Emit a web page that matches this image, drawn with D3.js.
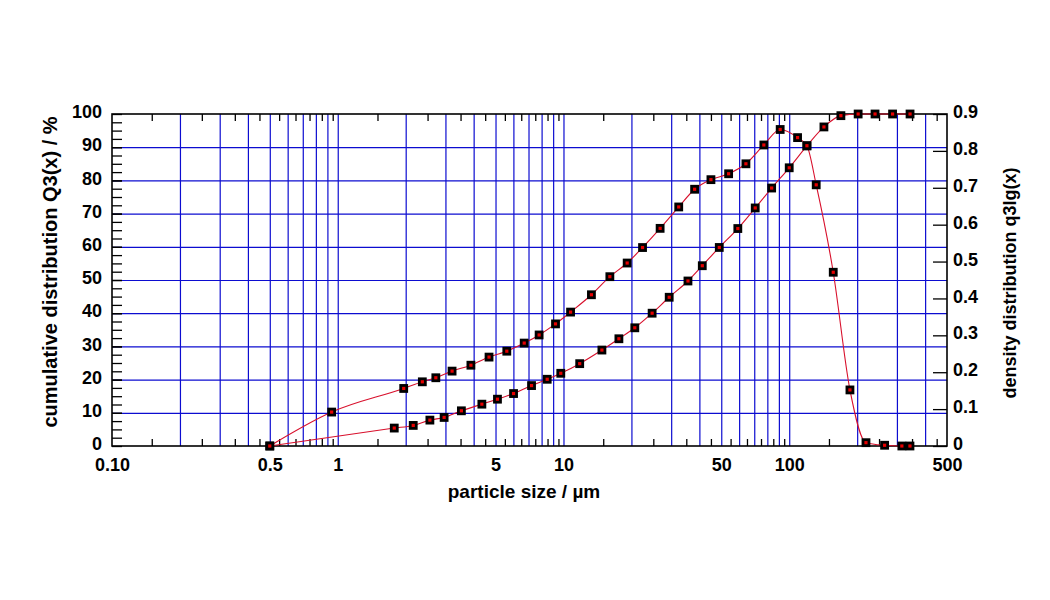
<!DOCTYPE html>
<html>
<head>
<meta charset="utf-8">
<script src="https://cdn.jsdelivr.net/npm/d3@7"></script>
<style>
  body { margin: 0; background: #fff; }
  text { font-family: Arial, "Liberation Sans", sans-serif; font-weight: bold; fill: #000; }
</style>
</head>
<body>
<div class="chart"></div>
<script>
// cumulative distribution Q3(x), left axis (%)
var sizeQ3 = [0.5, 1.78, 2.16, 2.56, 2.96, 3.53, 4.35, 5.1, 6.01, 7.22, 8.47, 9.73, 11.8, 14.8, 17.6, 20.7, 24.7, 29.4, 35.6, 41.2, 49.0, 59.2, 70.7, 83.6, 100, 119.8, 142.5, 169.4, 202, 240, 287, 343];
var valQ3 = [0, 5.4, 6.2, 7.8, 8.6, 10.6, 12.6, 14.1, 15.8, 18.2, 20.1, 21.9, 24.8, 28.9, 32.3, 35.6, 40.0, 44.8, 49.7, 54.3, 59.8, 65.5, 71.7, 77.7, 83.8, 90.4, 96.1, 99.5, 100, 100, 100, 100];

// density distribution q3lg(x), right axis
var sizeq3 = [0.5, 0.94, 1.96, 2.37, 2.72, 3.21, 3.89, 4.68, 5.61, 6.70, 7.80, 9.22, 10.75, 13.3, 16.05, 19.15, 22.4, 26.8, 32.4, 38.1, 45.0, 53.9, 64.3, 77.2, 91.2, 108.9, 119.8, 131.7, 156.7, 185.8, 218.8, 264.6, 315.5, 342.7];
var valq3 = [0, 0.092, 0.156, 0.174, 0.185, 0.203, 0.219, 0.241, 0.257, 0.279, 0.301, 0.331, 0.363, 0.410, 0.459, 0.496, 0.538, 0.590, 0.648, 0.696, 0.722, 0.738, 0.765, 0.816, 0.858, 0.836, 0.814, 0.708, 0.471, 0.152, 0.009, 0.002, 0, 0];

// tick labels
var xTicks = [0.1, 0.5, 1, 5, 10, 50, 100, 500];
var xTickLabels = ["0.10", "0.5", "1", "5", "10", "50", "100", "500"];
var yLeftTicks = [0, 10, 20, 30, 40, 50, 60, 70, 80, 90, 100];
var yRightTicks = [0, 0.1, 0.2, 0.3, 0.4, 0.5, 0.6, 0.7, 0.8, 0.9];
var yRightLabels = ["0", "0.1", "0.2", "0.3", "0.4", "0.5", "0.6", "0.7", "0.8", "0.9"];

//Chart parameters
var svgWidth = 1050;
var svgHeight = 600;
var margin = { top: 114, right: 103, bottom: 154, left: 112 };
var width = svgWidth - margin.left - margin.right;
var height = svgHeight - margin.top - margin.bottom;

var svg = d3.select(".chart").append("svg")
  .attr("width", svgWidth)
  .attr("height", svgHeight);

var chartGroup = svg.append("g")
  .attr("transform", `translate(${margin.left}, ${margin.top})`);

// scales
var x = d3.scaleLog().domain([0.1, 500]).range([0, width]);
var yL = d3.scaleLinear().domain([0, 100]).range([height, 0]);
var yR = d3.scaleLinear().domain([0, 0.9]).range([height, 0]);

// grid positions: 2..9 of every decade, half steps for small ticks
var gridX = [], halfX = [];
[0.1, 1, 10, 100].forEach(function(dec) {
  for (var k = 1; k <= 9; k++) {
    if (k > 1 && dec * k < 500) gridX.push(dec * k);
    if (dec * (k + 0.5) < 500) halfX.push(dec * (k + 0.5));
  }
});
gridX.push(1, 10, 100);

var blue = "#0c0cd0";

// vertical grid
chartGroup.append("g")
  .attr("transform", `translate(0, ${height})`)
  .call(d3.axisBottom(x).tickValues(gridX).tickSize(-height).tickFormat(""))
  .call(g => g.select(".domain").remove())
  .selectAll("line").attr("stroke", blue).attr("stroke-width", 1.2);

// horizontal grid
chartGroup.append("g")
  .call(d3.axisLeft(yL).tickValues(d3.range(10, 100, 10)).tickSize(-width).tickFormat(""))
  .call(g => g.select(".domain").remove())
  .selectAll("line").attr("stroke", blue).attr("stroke-width", 1.2);

// small ticks on top and bottom
chartGroup.append("g")
  .attr("transform", `translate(0, ${height})`)
  .call(d3.axisBottom(x).tickValues(halfX).tickSize(-7).tickFormat(""))
  .call(g => g.select(".domain").remove());
chartGroup.append("g")
  .call(d3.axisTop(x).tickValues(halfX).tickSize(-7).tickFormat(""))
  .call(g => g.select(".domain").remove());

// left minor ticks
chartGroup.append("g")
  .call(d3.axisLeft(yL).tickValues(d3.range(2.5, 100, 2.5)).tickSize(-10).tickFormat(""))
  .call(g => g.select(".domain").remove());

// bottom axis labels
var xAxis = chartGroup.append("g")
  .attr("transform", `translate(0, ${height})`)
  .call(d3.axisBottom(x).tickValues(xTicks).tickSize(0).tickPadding(12)
    .tickFormat((d, i) => xTickLabels[i]));
xAxis.select(".domain").remove();
xAxis.selectAll("text").attr("font-size", 18);

// left axis
var leftAxis = chartGroup.append("g")
  .call(d3.axisLeft(yL).tickValues(yLeftTicks).tickSize(-10).tickPadding(10));
leftAxis.select(".domain").remove();
leftAxis.selectAll("text").attr("font-size", 18).attr("dy", "0.2em");

// right axis
var rightAxis = chartGroup.append("g")
  .attr("transform", `translate(${width}, 0)`)
  .call(d3.axisRight(yR).tickValues(yRightTicks).tickSize(-14).tickPadding(6)
    .tickFormat((d, i) => yRightLabels[i]));
rightAxis.select(".domain").remove();
rightAxis.selectAll("text").attr("font-size", 18).attr("dy", "0.2em");

chartGroup.selectAll(".tick line").filter(function() {
  return d3.select(this).attr("stroke") !== blue;
}).attr("stroke", "#000").attr("stroke-width", 1.3);

// frame
chartGroup.append("rect")
  .attr("width", width).attr("height", height)
  .attr("fill", "none").attr("stroke", "#000").attr("stroke-width", 1.6);

// curves
var lineQ3 = d3.line().curve(d3.curveMonotoneX)
  .x((d, i) => x(sizeQ3[i])).y(d => yL(d));
var lineq3 = d3.line().curve(d3.curveMonotoneX)
  .x((d, i) => x(sizeq3[i])).y(d => yR(d));

chartGroup.append("path").datum(valQ3)
  .attr("d", lineQ3).attr("fill", "none").attr("stroke", "#d8102c").attr("stroke-width", 1.1);
chartGroup.append("path").datum(valq3)
  .attr("d", lineq3).attr("fill", "none").attr("stroke", "#d8102c").attr("stroke-width", 1.1);

// markers
function markers(sizes, vals, scale) {
  chartGroup.selectAll(null).data(vals).enter().append("rect")
    .attr("x", (d, i) => x(sizes[i]) - 3)
    .attr("y", d => scale(d) - 3)
    .attr("width", 6).attr("height", 6)
    .attr("fill", "#e60000").attr("stroke", "#000").attr("stroke-width", 2.8);
}
markers(sizeQ3, valQ3, yL);
markers(sizeq3, valq3, yR);

// axis titles
svg.append("text")
  .attr("x", 524).attr("y", 498)
  .attr("text-anchor", "middle").attr("font-size", 19)
  .text("particle size / µm");

svg.append("text")
  .attr("transform", "translate(57, 272) rotate(-90)")
  .attr("text-anchor", "middle").attr("font-size", 20)
  .text("cumulative distribution Q3(x) / %");

svg.append("text")
  .attr("transform", "translate(1016, 283) rotate(-90)")
  .attr("text-anchor", "middle").attr("font-size", 18)
  .text("density distribution q3lg(x)");
</script>
</body>
</html>
